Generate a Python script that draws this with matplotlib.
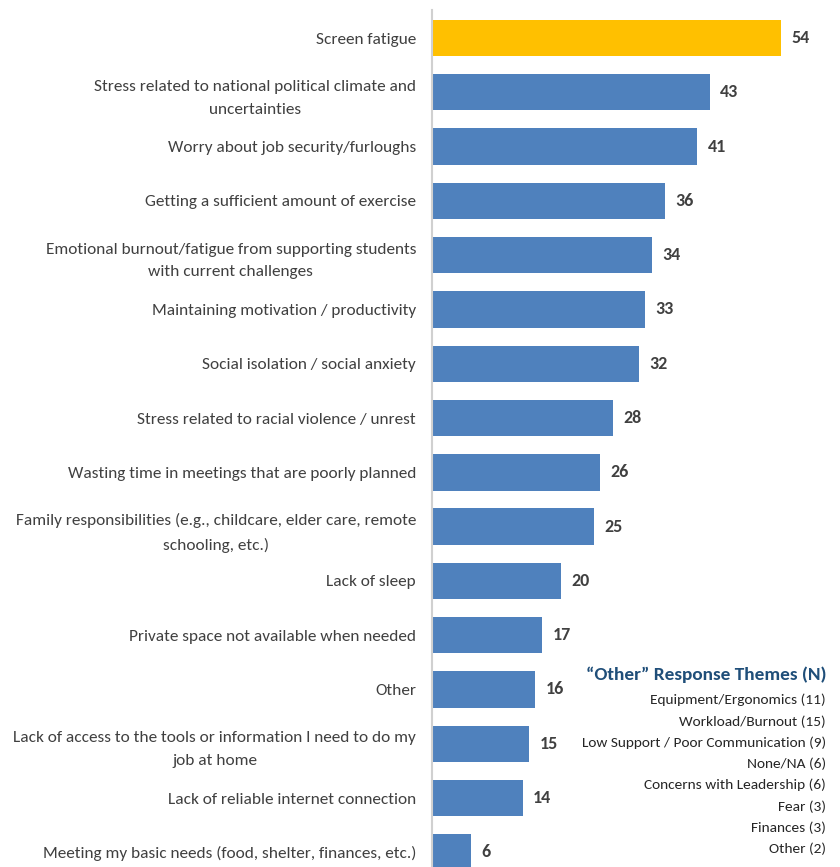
import matplotlib
matplotlib.use("Agg")
import matplotlib.pyplot as plt

categories = [
    "Screen fatigue",
    "Stress related to national political climate and\nuncertainties",
    "Worry about job security/furloughs",
    "Getting a sufficient amount of exercise",
    "Emotional burnout/fatigue from supporting students\nwith current challenges",
    "Maintaining motivation / productivity",
    "Social isolation / social anxiety",
    "Stress related to racial violence / unrest",
    "Wasting time in meetings that are poorly planned",
    "Family responsibilities (e.g., childcare, elder care, remote\nschooling, etc.)",
    "Lack of sleep",
    "Private space not available when needed",
    "Other",
    "Lack of access to the tools or information I need to do my\njob at home",
    "Lack of reliable internet connection",
    "Meeting my basic needs (food, shelter, finances, etc.)",
]
values = [54, 43, 41, 36, 34, 33, 32, 28, 26, 25, 20, 17, 16, 15, 14, 6]
highlight = ["Screen fatigue"]

other_title = "\u201cOther\u201d Response Themes (N)"
other_items = [
    "Equipment/Ergonomics (11)",
    "Workload/Burnout (15)",
    "Low Support / Poor Communication (9)",
    "None/NA (6)",
    "Concerns with Leadership (6)",
    "Fear (3)",
    "Finances (3)",
    "Other (2)",
]

plt.rcParams['font.family'] = ['Carlito', 'DejaVu Sans']

W, H = 840, 867
fig = plt.figure(figsize=(W / 100, H / 100), dpi=100)
ax = fig.add_axes([432 / W, 0, (W - 432) / W, 1])

blue = "#4F81BD"
yellow = "#FFC000"
txt = "#404040"
colors = [yellow if c in highlight else blue for c in categories]
pos = list(range(len(categories)))
ax.barh(pos, values, height=0.67, color=colors, zorder=2)
for p, v in zip(pos, values):
    ax.text(v + 1.6, p, str(v), va="center", ha="left", fontsize=13,
            fontweight="bold", color=txt)

ax.set_ylim(15.27, -0.70)
ax.set_xlim(0, 63.1)
ax.set_yticks(pos)
ax.set_yticklabels(categories, fontsize=12.4, color=txt, ha="right",
                   multialignment="center", linespacing=1.8)
ax.tick_params(axis="y", length=0, pad=11.5)
ax.set_xticks([])
for s in ["top", "right", "bottom"]:
    ax.spines[s].set_visible(False)
ax.spines["left"].set_color("#D0D0D0")
ax.spines["left"].set_linewidth(1.5)
ax.spines["left"].set_bounds(15.27, -0.52)

x_r = 826 / W
y0 = 675
fig.text(x_r, 1 - y0 / H, other_title, ha="right", va="center", fontsize=13.9,
         fontweight="bold", color="#1F4E79")
for i, it in enumerate(other_items):
    fig.text(x_r, 1 - (700 + i * 21.3) / H, it, ha="right", va="center",
             fontsize=11.1, color="#262626")

fig.savefig("out.png", dpi=100)
